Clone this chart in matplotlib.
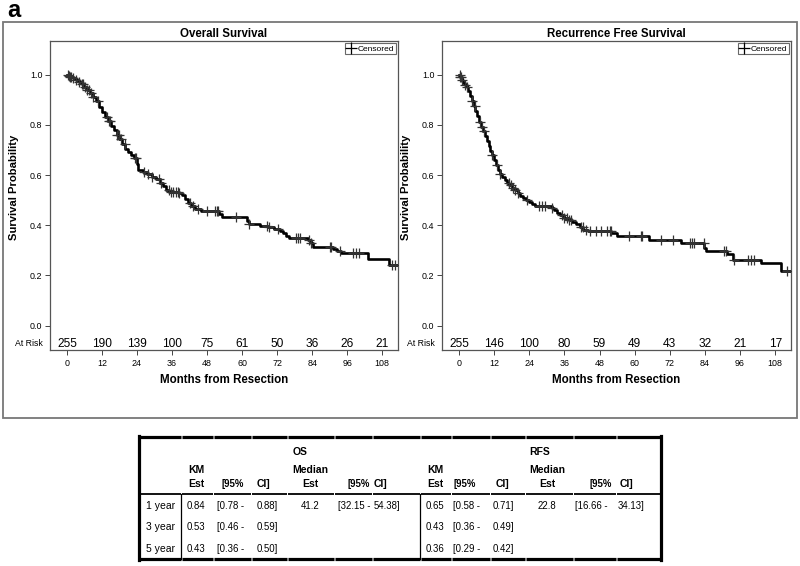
import numpy as np
import matplotlib
matplotlib.use("Agg")
import matplotlib.pyplot as plt
from matplotlib.lines import Line2D

plt.rcParams['font.family'] = ['Liberation Sans', 'DejaVu Sans']

# ---------------- data ----------------
months_ticks = [0, 12, 24, 36, 48, 60, 72, 84, 96, 108]

os_times = [0, 0.5, 1, 2, 3, 4, 5, 6, 7, 8, 9, 10, 11, 12, 13, 14, 15, 16, 17, 18,
            19, 20, 21, 22, 23, 24.1, 24.5, 26, 27.5, 29, 30.5, 32, 33, 34, 35,
            38.5, 39.5, 40.5, 41.5, 42.5, 44, 46, 52, 53, 61.8, 62.3, 66, 69, 71,
            73, 74, 75.2, 76, 82.5, 83.5, 84.3, 91, 92.5, 94, 103, 110.2, 113.5]
os_surv = [1.0, 0.996, 0.99, 0.985, 0.98, 0.972, 0.963, 0.952, 0.94, 0.928, 0.912,
           0.893, 0.872, 0.852, 0.832, 0.815, 0.797, 0.778, 0.76, 0.742, 0.722,
           0.705, 0.692, 0.68, 0.668, 0.645, 0.62, 0.612, 0.603, 0.594, 0.583,
           0.57, 0.555, 0.54, 0.532, 0.527, 0.52, 0.505, 0.49, 0.476, 0.466,
           0.457, 0.445, 0.434, 0.418, 0.403, 0.397, 0.392, 0.386, 0.378, 0.37,
           0.358, 0.348, 0.34, 0.33, 0.313, 0.304, 0.296, 0.29, 0.264, 0.242, 0.242]
os_censor = [0.3, 0.6, 1.0, 1.5, 2.2, 3.0, 4.2, 5.0, 5.5, 6.2, 7.0, 7.5, 8.2, 9.0,
             10.7, 13.7, 14.3, 14.8, 17.2, 17.8, 18.5, 19.8, 23.2, 23.8, 26.5,
             27.8, 29.2, 31.5, 32.3, 34.8, 35.8, 36.5, 37.2, 38.0, 38.5, 42.3,
             43.3, 45.0, 47.9, 50.7, 51.3, 51.9, 58.0, 62.5, 68.5, 69.3, 72.2,
             78.6, 79.2, 79.7, 82.8, 83.5, 90.0, 90.5, 93.4, 98.0, 99.1, 100.2,
             111.2, 112.3]
os_at_risk = [255, 190, 139, 100, 75, 61, 50, 36, 26, 21]

rfs_times = [0, 0.5, 1, 1.5, 2, 2.6, 3.2, 3.8, 4.4, 5, 5.6, 6.2, 6.8, 7.5, 8.2,
             8.9, 9.5, 10.1, 10.7, 11.3, 12, 12.7, 13.3, 14, 14.8, 15.6, 16.4,
             17.2, 18, 19, 20, 21, 22, 23, 24, 25, 26, 31.8, 32.5, 33.5, 34.5, 36,
             37.5, 38.5, 40, 41.5, 42.5, 44, 52, 54, 65, 76, 83.8, 84.5, 91.5,
             93.5, 103, 110, 113.5]
rfs_surv = [1.0, 0.992, 0.98, 0.968, 0.958, 0.95, 0.935, 0.915, 0.895, 0.875,
            0.855, 0.835, 0.81, 0.79, 0.775, 0.755, 0.735, 0.715, 0.695, 0.68,
            0.66, 0.64, 0.62, 0.605, 0.592, 0.58, 0.57, 0.56, 0.55, 0.54, 0.53,
            0.518, 0.508, 0.5, 0.492, 0.485, 0.477, 0.47, 0.46, 0.45, 0.441,
            0.43, 0.42, 0.412, 0.403, 0.392, 0.383, 0.377, 0.368, 0.358, 0.341,
            0.328, 0.31, 0.299, 0.285, 0.262, 0.248, 0.219, 0.219]
rfs_censor = [0.2, 0.5, 0.8, 1.2, 2.0, 2.6, 4.4, 5.5, 7.3, 8.0, 8.6, 11.3, 13.0,
              14.0, 17.0, 17.8, 18.5, 19.2, 20.0, 23.2, 27.2, 28.5, 29.5, 31.8,
              35.3, 36.0, 36.8, 37.5, 38.3, 41.7, 42.4, 43.5, 44.8, 46.8, 48.5,
              50.5, 51.5, 51.9, 58.1, 62.0, 62.5, 69.0, 73.2, 79.0, 79.6, 80.2,
              83.7, 90.6, 91.1, 94.0, 98.6, 99.7, 100.8, 112.0]
rfs_at_risk = [255, 146, 100, 80, 59, 49, 43, 32, 21, 17]

# table
table_rows = ['1 year', '3 year', '5 year']
os_km = ['0.84', '0.53', '0.43']
os_km_lo = ['0.78', '0.46', '0.36']
os_km_hi = ['0.88', '0.59', '0.50']
os_median = ['41.2', '', '']
os_med_lo = ['32.15', '', '']
os_med_hi = ['54.38', '', '']
rfs_km = ['0.65', '0.43', '0.36']
rfs_km_lo = ['0.58', '0.36', '0.29']
rfs_km_hi = ['0.71', '0.49', '0.42']
rfs_median = ['22.8', '', '']
rfs_med_lo = ['16.66', '', '']
rfs_med_hi = ['34.13', '', '']

# ---------------- figure ----------------
W, H = 800, 566
fig = plt.figure(figsize=(8, 5.66), dpi=100)
fig.patch.set_facecolor('white')

over = fig.add_axes([0, 0, 1, 1], zorder=-1)
over.set_xlim(0, W)
over.set_ylim(H, 0)
over.axis('off')
over.patch.set_alpha(0)

# outer frame around the two plots
over.add_patch(plt.Rectangle((3, 22), 794, 396, fill=False, ec='#777777', lw=1.3))
over.text(7, 17, 'a', fontsize=17, fontweight='bold', ha='left', va='baseline')


def px_axes(x0, y0, x1, y1):
    return fig.add_axes([x0 / W, 1 - y1 / H, (x1 - x0) / W, (y1 - y0) / H])


def km_panel(ax, title, times, surv, censor, at_risk):
    times = np.asarray(times)
    surv = np.asarray(surv)
    ax.step(times, surv, where='post', color='black', lw=1.9, zorder=3)
    idx = np.searchsorted(times, censor, side='right') - 1
    ax.plot(censor, surv[idx], ls='none', marker='+', ms=7, mew=0.9,
            color='#333333', zorder=4)
    ax.set_xlim(-5.8, 113.4)
    ax.set_ylim(-0.097, 1.134)
    ax.set_xticks(months_ticks)
    ax.set_yticks([0.0, 0.2, 0.4, 0.6, 0.8, 1.0])
    ax.set_yticklabels(['0.0', '0.2', '0.4', '0.6', '0.8', '1.0'])
    ax.tick_params(labelsize=6.4, length=3.5, width=0.7, color='#444444', pad=2)
    ax.tick_params(axis='x', pad=3.0)
    for s in ax.spines.values():
        s.set_color('#555555')
        s.set_linewidth(0.9)
    ax.set_title(title, fontsize=8.3, fontweight='bold', pad=3)
    ax.set_xlabel('Months from Resection', fontsize=8.3, fontweight='bold')
    ax.set_ylabel('Survival Probability', fontsize=8.1, fontweight='bold')
    ax.xaxis.set_label_coords(0.5, -0.078)
    ax.yaxis.set_label_coords(-0.09, 0.525)
    for t, n in zip(months_ticks, at_risk):
        ax.text(t, -0.072, str(n), fontsize=8.6, ha='center', va='center')
    ax.text(-0.02, -0.072, 'At Risk', transform=ax.get_yaxis_transform(),
            fontsize=6.3, ha='right', va='center')
    h = Line2D([], [], ls='none', marker='+', ms=8, mew=0.9, color='black')
    leg = ax.legend([h], ['Censored'], loc='upper right', fontsize=6.0,
                    frameon=True, fancybox=False, borderpad=0.2,
                    handlelength=1.0, handletextpad=0.3, borderaxespad=0.25)
    leg.get_frame().set_edgecolor('#444444')
    leg.get_frame().set_linewidth(0.8)


ax1 = px_axes(50, 41, 398, 350)
km_panel(ax1, 'Overall Survival', os_times, os_surv, os_censor, os_at_risk)
ax2 = px_axes(442, 41, 791, 350)
km_panel(ax2, 'Recurrence Free Survival', rfs_times, rfs_surv, rfs_censor, rfs_at_risk)

# ---------------- table ----------------
tx0, tx1, ty0, ty1 = 139, 661, 437, 559
y_hdr_line = 494
col_bounds = [139, 181, 213, 251, 287, 334, 372, 420, 451, 490, 525, 573, 616, 661]
gap = 0.5


def seg_line(y, lw):
    for a, b in zip(col_bounds[:-1], col_bounds[1:]):
        over.plot([a + gap, b - gap], [y, y], color='black', lw=lw,
                  solid_capstyle='butt')


seg_line(ty0, 2.3)
seg_line(ty1, 2.3)
seg_line(y_hdr_line, 1.3)
over.plot([tx0, tx0], [ty0 - 1, ty1 + 1], color='black', lw=2.3)
over.plot([tx1, tx1], [ty0 - 1, ty1 + 1], color='black', lw=2.3)
for xv in (181, 420):
    over.plot([xv, xv], [y_hdr_line, ty1], color='black', lw=0.9)

tfs = 7.5   # labels / headers
nfs = 6.9   # numbers
over.text(300, 452, 'OS', fontsize=tfs, fontweight='bold', ha='center', va='center')
over.text(540, 452, 'RFS', fontsize=tfs, fontweight='bold', ha='center', va='center')

hdr_y1, hdr_y2 = 470, 484
for km_c, ci_l, ci_r, med_c, mci_l, mci_r in [(196, 221, 257, 310, 347, 374),
                                              (435, 453, 496, 547, 590, 620)]:
    over.text(km_c, hdr_y1, 'KM', fontsize=tfs, fontweight='bold', ha='center', va='center')
    over.text(km_c, hdr_y2, 'Est', fontsize=tfs, fontweight='bold', ha='center', va='center')
    over.text(ci_l, hdr_y2, '[95%', fontsize=nfs, fontweight='bold', ha='left', va='center')
    over.text(ci_r, hdr_y2, 'CI]', fontsize=tfs, fontweight='bold', ha='left', va='center')
    over.text(med_c, hdr_y1, 'Median', fontsize=tfs, fontweight='bold', ha='center', va='center')
    over.text(med_c, hdr_y2, 'Est', fontsize=tfs, fontweight='bold', ha='center', va='center')
    over.text(mci_l, hdr_y2, '[95%', fontsize=nfs, fontweight='bold', ha='left', va='center')
    over.text(mci_r, hdr_y2, 'CI]', fontsize=tfs, fontweight='bold', ha='left', va='center')

row_y = [506, 527, 549]
for i, y in enumerate(row_y):
    over.text(146, y, table_rows[i], fontsize=tfs, ha='left', va='center')
    groups = [(os_km, os_km_lo, os_km_hi, os_median, os_med_lo, os_med_hi,
               (196, 217, 257, 310, 338, 374)),
              (rfs_km, rfs_km_lo, rfs_km_hi, rfs_median, rfs_med_lo, rfs_med_hi,
               (435, 453, 493, 547, 575, 618))]
    for km, lo, hi, med, mlo, mhi, (c1, c2, c3, c4, c5, c6) in groups:
        over.text(c1, y, km[i], fontsize=nfs, ha='center', va='center')
        over.text(c2, y, '[' + lo[i] + ' -', fontsize=nfs, ha='left', va='center')
        over.text(c3, y, hi[i] + ']', fontsize=nfs, ha='left', va='center')
        if med[i]:
            over.text(c4, y, med[i], fontsize=nfs, ha='center', va='center')
            over.text(c5, y, '[' + mlo[i] + ' -', fontsize=nfs, ha='left', va='center')
            over.text(c6, y, mhi[i] + ']', fontsize=nfs, ha='left', va='center')

fig.savefig('out.png', dpi=100)
